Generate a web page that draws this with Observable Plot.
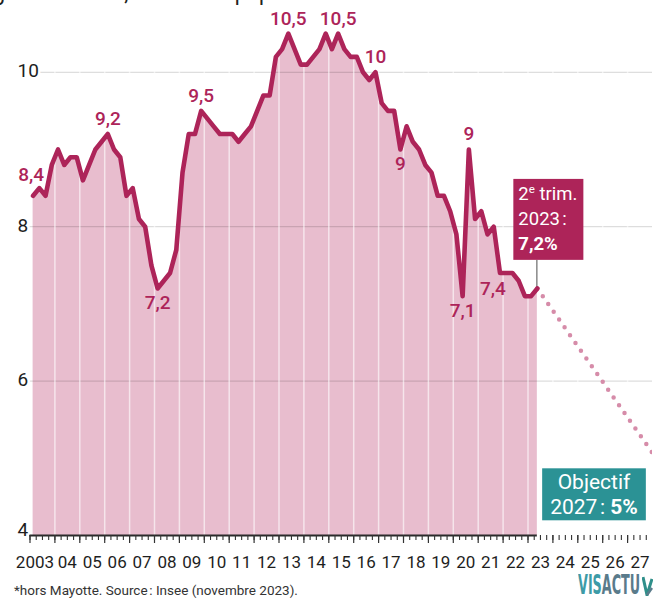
<!DOCTYPE html>
<html><head><meta charset="utf-8">
<script src="https://cdn.jsdelivr.net/npm/d3@7"></script>
<script src="https://cdn.jsdelivr.net/npm/@observablehq/plot@0.6"></script>
<style>
body{margin:0;background:#fff;}
#wrap{position:relative;width:653px;height:600px;overflow:hidden;font-family:Roboto,"Noto Sans",sans-serif;}
#sub{position:absolute;top:-18.5px;font-size:21.5px;line-height:21px;white-space:nowrap;color:#222;}
#chart{position:absolute;left:0;top:0;}
#cap{position:absolute;left:14px;top:582px;font-size:13.5px;line-height:16px;color:#333;white-space:nowrap;}
#logo{position:absolute;left:578px;top:571px;height:28px;width:75px;white-space:nowrap;}
#logo .txt{position:absolute;left:0;top:0;display:inline-block;font-family:"Liberation Sans Narrow","DejaVu Sans Condensed",sans-serif;font-weight:bold;font-size:27px;line-height:28px;transform-origin:0 0;}
#logo .a{color:#3d9ba7;} #logo .b{color:#5a7b8b;}
#logo svg{position:absolute;left:64px;top:5px;}
</style></head><body>
<div id="wrap">
  <div id="sub"><span id="sub1">Taux de chômage en France*</span><span>, en % de la population active</span></div>
  <div id="chart"></div>
  <div id="cap">*hors Mayotte. Source&#8239;: Insee (novembre 2023).</div>
  <div id="logo"><span class="txt" id="logotxt"><span class="a">VIS</span><span class="b">ACTU</span></span><svg width="11" height="20" viewBox="0 0 11 20"><path d="M1 1 L5 19 L10 3" fill="none" stroke="#2f8f8a" stroke-width="3"/><path d="M5 19 L10 12" fill="none" stroke="#5a7b8b" stroke-width="2.5"/></svg></div>
</div>
<script>
// Quarterly unemployment rate (%), France hors Mayotte, 2003 T1 -> 2023 T2
const startYear = 2003;
const rates = [
  8.4, 8.5, 8.4, 8.8,   // 2003
  9.0, 8.8, 8.9, 8.9,   // 2004
  8.6, 8.8, 9.0, 9.1,   // 2005
  9.2, 9.0, 8.9, 8.4,   // 2006
  8.5, 8.1, 8.0, 7.5,   // 2007
  7.2, 7.3, 7.4, 7.7,   // 2008
  8.7, 9.2, 9.2, 9.5,   // 2009
  9.4, 9.3, 9.2, 9.2,   // 2010
  9.2, 9.1, 9.2, 9.3,   // 2011
  9.5, 9.7, 9.7, 10.2,  // 2012
  10.3, 10.5, 10.3, 10.1, // 2013
  10.1, 10.2, 10.3, 10.5, // 2014
  10.3, 10.5, 10.3, 10.2, // 2015
  10.2, 10.0, 9.9, 10.0,  // 2016
  9.6, 9.5, 9.5, 9.0,   // 2017
  9.3, 9.1, 9.0, 8.8,   // 2018
  8.7, 8.4, 8.4, 8.2,   // 2019
  7.9, 7.1, 9.0, 8.1,   // 2020
  8.2, 7.9, 8.0, 7.4,   // 2021
  7.4, 7.4, 7.3, 7.1,   // 2022
  7.1, 7.2              // 2023
];
// indices (into rates) of labelled points
const labelsAbove = [12, 27, 41, 49, 55, 70];
const labelsAboveLeft = [0];
const labelsBelow = [20, 59, 69];
const labelsBelowLeft = [75];
const yTicks = [10, 8, 6];
const yBottomTick = [4];
const yearLabels = ["2003","04","05","06","07","08","09","10","11","12","13","14","15","16","17","18","19","20","21","22","23","24","25","26","27"];
const lastPeriod = {quarter: 2, year: 2023};
const goalYear = 2027;
const goalValue = 5;
const goalReach = 2028.15; // where the dotted trajectory meets 5 %
const baseValue = 4;
const topValue = 10.93;

const crimson = "#ad2459";
const pinkFill = "#e8bdce";
const dotPink = "#d68ca9";
const teal = "#2b9295";

const fmt = v => String(v).replace(".", ",");
const data = rates.map((v, i) => ({t: startYear + i / 4 + 1 / 8, v}));
const last = data[data.length - 1];
const years = yearLabels.map((s, i) => ({t: startYear + i, s}));
const quarterTicks = d3.range(startYear, startYear + yearLabels.length, 0.25);
const yearTicks = years.map(d => d.t);
const gridYears = yearTicks.slice(1);
const goalPath = [{t: last.t, v: last.v}, {t: goalReach, v: goalValue}];
const pick = idx => idx.map(i => ({t: data[i].t, v: data[i].v, s: fmt(data[i].v)}));

const labelStyle = {x: "t", y: "v", text: "s", fill: crimson, fontSize: 19, fontWeight: 500, textAnchor: "middle"};

const plot = Plot.plot({
  width: 653, height: 575,
  marginLeft: 29.5, marginRight: 1, marginTop: 0, marginBottom: 40,
  x: {domain: [startYear, startYear + yearLabels.length], axis: null},
  y: {domain: [baseValue, topValue], axis: null},
  style: {fontFamily: "Roboto, 'Noto Sans', sans-serif", background: "transparent", overflow: "visible"},
  marks: [
    Plot.areaY(data, {x: "t", y1: () => baseValue, y2: "v", fill: pinkFill}),
    Plot.ruleY(yTicks, {stroke: "#000", strokeOpacity: 0.17, strokeWidth: 1}),
    Plot.ruleX(gridYears, {stroke: "#fff", strokeOpacity: 0.6, strokeWidth: 1.5}),
    Plot.ruleY([baseValue], {x1: () => startYear, x2: () => last.t, stroke: "#2a2a2a", strokeWidth: 2.2}),
    Plot.axisX(quarterTicks, {tickSize: 5, tickFormat: () => "", stroke: "#333", strokeWidth: 1.1, label: null}),
    Plot.axisX(yearTicks, {tickSize: 8, tickFormat: () => "", stroke: "#333", strokeWidth: 1.2, label: null}),
    Plot.line(goalPath, {x: "t", y: "v", stroke: dotPink, strokeWidth: 4.5, strokeDasharray: "0 9.5", strokeLinecap: "round", clip: true}),
    Plot.line(data, {x: "t", y: "v", stroke: crimson, strokeWidth: 4.6, strokeLinejoin: "round", strokeLinecap: "round", ariaDescription: "rate-line"}),
    Plot.text(pick(labelsAbove), {...labelStyle, lineAnchor: "bottom", dy: -9}),
    Plot.text(pick(labelsAboveLeft), {...labelStyle, lineAnchor: "bottom", dx: -2, dy: -15}),
    Plot.text(pick(labelsBelow), {...labelStyle, lineAnchor: "top", dy: 7}),
    Plot.text(pick(labelsBelowLeft), {...labelStyle, lineAnchor: "top", dx: -7, dy: 8}),
    Plot.text([last], {x: "t", y: "v",
      text: d => `${lastPeriod.quarter}e trim.\n${lastPeriod.year}\u202F:\n${fmt(d.v)}%`,
      textAnchor: "start", lineAnchor: "bottom", dx: -19, dy: -38.6, fill: "#fff",
      fontSize: 18.5, lineHeight: 1.35, ariaDescription: "annot-box"}),
    Plot.text([`Objectif\n${goalYear}\u202F: ${goalValue}%`], {text: d => d, frameAnchor: "bottom-right",
      textAnchor: "middle", lineAnchor: "bottom", dx: -58.5, dy: -21.7, fill: "#fff",
      fontSize: 21, lineHeight: 1.19, ariaDescription: "goal-box"}),
    Plot.text(yTicks, {y: d => d, text: d => String(d), frameAnchor: "left", textAnchor: "start",
      lineAnchor: "middle", dx: -12.5, dy: -1, fill: "#1e1e1e", fontSize: 19, stroke: "#fff", strokeWidth: 5}),
    Plot.text(yBottomTick, {y: d => d, text: d => String(d), frameAnchor: "left", textAnchor: "start",
      lineAnchor: "bottom", dx: -12.5, dy: 0, fill: "#1e1e1e", fontSize: 19}),
    Plot.text(years.slice(0, 1), {x: d => d.t + 0.5, text: "s", frameAnchor: "bottom", lineAnchor: "bottom",
      dx: -7.5, dy: 32, fill: "#1e1e1e", fontSize: 17}),
    Plot.text(years.slice(1), {x: d => d.t + 0.5, text: "s", frameAnchor: "bottom", lineAnchor: "bottom",
      dy: 32, fill: "#1e1e1e", fontSize: 17})
  ]
});
document.getElementById("chart").append(plot);

const NS = "http://www.w3.org/2000/svg";
const findG = key => plot.querySelector(`g[aria-description="${key}"]`);
const ann = findG("annot-box");
const goal = findG("goal-box");
const lineG = findG("rate-line");

function boxify(g, fill, pl, pr, pt, pb) {
  const bb = g.getBBox();
  const r = document.createElementNS(NS, "rect");
  r.setAttribute("x", bb.x - pl); r.setAttribute("y", bb.y - pt);
  r.setAttribute("width", bb.width + pl + pr); r.setAttribute("height", bb.height + pt + pb);
  r.setAttribute("fill", fill); r.setAttribute("stroke", "none");
  g.insertBefore(r, g.firstChild);
  return r;
}

if (ann) {
  const annSpans = ann.querySelectorAll("tspan");
  if (annSpans.length >= 3) {
    const s0 = annSpans[0];
    const txt = s0.textContent;
    s0.textContent = "";
    s0.append(document.createTextNode(txt.slice(0, 1)));
    const sup = document.createElementNS(NS, "tspan");
    sup.setAttribute("dy", "-7"); sup.setAttribute("font-size", "11.5"); sup.textContent = txt.slice(1, 2);
    const rest = document.createElementNS(NS, "tspan");
    rest.setAttribute("dy", "7"); rest.textContent = txt.slice(2);
    s0.append(sup, rest);
    annSpans[2].setAttribute("font-weight", "bold");
  }
  const annRect = boxify(ann, crimson, 5, 6, 3, 5);
  // leader from annotation box to last point
  try {
    const sx = plot.scale("x"), sy = plot.scale("y");
    const svgBox = plot.getBoundingClientRect();
    const rb = annRect.getBoundingClientRect();
    const px = sx.apply(last.t), py = sy.apply(last.v);
    const leader = document.createElementNS(NS, "line");
    leader.setAttribute("x1", px); leader.setAttribute("x2", px);
    leader.setAttribute("y1", rb.bottom - svgBox.top); leader.setAttribute("y2", py);
    leader.setAttribute("stroke", "#888"); leader.setAttribute("stroke-width", "1.5");
    if (lineG) lineG.parentNode.insertBefore(leader, lineG); else plot.append(leader);
  } catch (e) { console.log(e); }
}
if (goal) {
  const goalSpans = goal.querySelectorAll("tspan");
  if (goalSpans.length >= 2) {
    const s1 = goalSpans[1];
    const txt = s1.textContent;
    const k = txt.lastIndexOf(" ") + 1;
    s1.textContent = txt.slice(0, k);
    const b = document.createElementNS(NS, "tspan");
    b.setAttribute("font-weight", "bold"); b.textContent = txt.slice(k);
    s1.append(b);
  }
  boxify(goal, teal, 8, 8, 1.5, 1.5);
}

// place the cropped subtitle so its comma falls where it does in the source
const sub = document.getElementById("sub");
sub.style.left = (124 - document.getElementById("sub1").offsetWidth) + "px";
// fit the logo word into its slot
const lt = document.getElementById("logotxt");
lt.style.transform = `scaleX(${62 / lt.offsetWidth})`;
</script>
</body></html>
